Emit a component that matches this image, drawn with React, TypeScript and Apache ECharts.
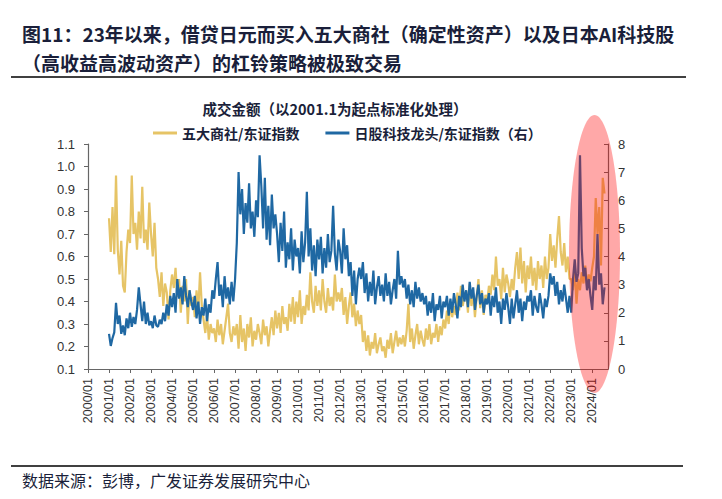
import React, { useEffect, useRef } from "react";
import * as echarts from "echarts";

// Month labels: 2000/01 .. 2024/10
const yearList = [2000, 2001, 2002, 2003, 2004, 2005, 2006, 2007, 2008, 2009, 2010, 2011, 2012, 2013, 2014, 2015, 2016, 2017, 2018, 2019, 2020, 2021, 2022, 2023, 2024];
const monthList = ["01", "02", "03", "04", "05", "06", "07", "08", "09", "10", "11", "12"];
const lastLabel = "2024/10";
const categories: string[] = [];
for (const y of yearList) {
  for (const m of monthList) {
    const lab = `${y}/${m}`;
    if (categories.length && categories[categories.length - 1] === lastLabel) break;
    categories.push(lab);
  }
}

// 五大商社/东证指数 (left axis), monthly from 2001/01
const tradingHouseRatio = [
  0.77, 0.62, 0.82, 0.61, 0.96, 0.63, 0.52, 0.67, 0.47, 0.44, 0.62, 0.72, // 2001
  0.66, 0.96, 0.70, 0.75, 0.63, 0.80, 0.68, 0.91, 0.66, 0.72, 0.63, 0.84, // 2002
  0.70, 0.60, 0.75, 0.55, 0.50, 0.42, 0.53, 0.38, 0.48, 0.44, 0.32, 0.45, // 2003
  0.52, 0.46, 0.55, 0.42, 0.50, 0.35, 0.47, 0.40, 0.50, 0.30, 0.45, 0.38, // 2004
  0.42, 0.33, 0.45, 0.36, 0.53, 0.38, 0.32, 0.26, 0.34, 0.23, 0.30, 0.26, // 2005
  0.28, 0.22, 0.32, 0.25, 0.30, 0.21, 0.27, 0.33, 0.39, 0.26, 0.22, 0.29, // 2006
  0.25, 0.30, 0.19, 0.34, 0.22, 0.28, 0.18, 0.30, 0.24, 0.33, 0.20, 0.27, // 2007
  0.23, 0.30, 0.26, 0.21, 0.32, 0.25, 0.29, 0.20, 0.27, 0.33, 0.25, 0.36, // 2008
  0.28, 0.35, 0.26, 0.38, 0.30, 0.33, 0.27, 0.39, 0.31, 0.42, 0.30, 0.40, // 2009
  0.33, 0.45, 0.30, 0.38, 0.34, 0.43, 0.36, 0.53, 0.40, 0.35, 0.47, 0.38, // 2010
  0.45, 0.36, 0.50, 0.40, 0.35, 0.46, 0.38, 0.42, 0.36, 0.52, 0.40, 0.44, // 2011
  0.40, 0.46, 0.34, 0.42, 0.30, 0.38, 0.44, 0.33, 0.39, 0.29, 0.36, 0.30, // 2012
  0.34, 0.22, 0.27, 0.18, 0.25, 0.16, 0.22, 0.19, 0.26, 0.17, 0.21, 0.24, // 2013
  0.18, 0.20, 0.15, 0.23, 0.19, 0.26, 0.17, 0.22, 0.27, 0.20, 0.24, 0.21, // 2014
  0.25, 0.20, 0.27, 0.39, 0.22, 0.28, 0.19, 0.25, 0.30, 0.21, 0.27, 0.23, // 2015
  0.20, 0.28, 0.23, 0.30, 0.21, 0.26, 0.24, 0.30, 0.22, 0.29, 0.25, 0.32, // 2016
  0.28, 0.36, 0.30, 0.40, 0.33, 0.38, 0.34, 0.44, 0.36, 0.47, 0.38, 0.42, // 2017
  0.45, 0.35, 0.48, 0.38, 0.44, 0.33, 0.42, 0.50, 0.37, 0.45, 0.34, 0.43, // 2018
  0.40, 0.47, 0.43, 0.52, 0.45, 0.60, 0.47, 0.50, 0.41, 0.55, 0.44, 0.52, // 2019
  0.48, 0.42, 0.50, 0.45, 0.55, 0.62, 0.50, 0.64, 0.48, 0.58, 0.44, 0.56, // 2020
  0.50, 0.60, 0.47, 0.55, 0.45, 0.58, 0.50, 0.56, 0.46, 0.60, 0.50, 0.55, // 2021
  0.70, 0.58, 0.65, 0.55, 0.68, 0.78, 0.62, 0.56, 0.66, 0.53, 0.60, 0.50, // 2022
  0.50, 0.45, 0.55, 0.39, 0.50, 0.45, 0.53, 0.48, 0.56, 0.47, 0.52, 0.49, // 2023
  0.55, 0.60, 0.86, 0.70, 0.82, 0.56, 0.95, 0.88, // 2024
];

// 日股科技龙头/东证指数 (right axis), monthly from 2001/01
const techLeaderRatio = [
  1.25, 0.82, 1.10, 1.30, 2.35, 1.60, 1.90, 1.25, 1.55, 1.20, 1.80, 1.45, // 2001
  2.00, 1.50, 1.85, 1.60, 2.10, 2.90, 2.30, 1.70, 2.40, 1.60, 2.00, 1.55, // 2002
  1.70, 1.45, 1.90, 1.55, 1.50, 1.75, 1.60, 2.00, 1.70, 2.30, 1.90, 2.60, // 2003
  2.20, 2.70, 2.00, 3.20, 2.50, 2.90, 2.30, 3.30, 2.60, 2.20, 2.80, 2.40, // 2004
  2.10, 2.60, 1.80, 2.40, 1.60, 2.20, 1.90, 2.50, 1.70, 2.30, 2.00, 2.80, // 2005
  2.50, 3.20, 3.80, 2.60, 3.00, 2.20, 3.30, 2.50, 2.90, 2.30, 3.10, 2.40, // 2006
  3.20, 4.50, 7.00, 5.50, 6.40, 4.80, 5.90, 5.20, 6.60, 5.00, 5.60, 4.70, // 2007
  6.00, 5.40, 7.60, 6.50, 5.00, 6.80, 4.60, 5.80, 4.40, 6.20, 5.00, 5.50, // 2008
  4.80, 3.80, 5.20, 4.20, 5.60, 3.60, 4.50, 3.90, 5.00, 3.50, 4.60, 4.00, // 2009
  4.30, 3.40, 4.90, 3.80, 4.50, 6.30, 4.00, 5.00, 3.50, 4.40, 3.30, 4.60, // 2010
  3.90, 4.70, 3.40, 4.30, 3.60, 4.80, 3.80, 4.20, 5.80, 4.10, 3.50, 4.60, // 2011
  4.20, 3.40, 5.00, 3.90, 4.40, 3.30, 3.80, 2.60, 3.50, 2.30, 3.20, 3.60, // 2012
  3.20, 3.80, 2.70, 3.40, 2.40, 3.10, 2.60, 3.50, 2.30, 2.90, 3.30, 2.60, // 2013
  3.00, 2.40, 3.40, 2.60, 3.10, 2.30, 2.80, 3.20, 2.50, 4.20, 3.00, 3.30, // 2014
  2.90, 3.20, 2.50, 3.00, 2.30, 2.80, 2.20, 3.10, 2.50, 2.90, 2.40, 2.70, // 2015
  2.30, 2.60, 1.90, 2.40, 2.00, 2.70, 1.70, 2.30, 2.10, 2.60, 1.80, 2.40, // 2016
  2.20, 2.60, 1.90, 2.50, 2.00, 2.70, 2.30, 1.80, 2.60, 2.20, 3.00, 2.40, // 2017
  2.80, 2.20, 3.10, 2.50, 2.90, 2.10, 2.60, 3.00, 2.30, 2.70, 2.00, 2.50, // 2018
  2.30, 2.70, 1.90, 2.60, 2.20, 2.90, 2.00, 2.40, 1.60, 2.50, 2.10, 2.70, // 2019
  2.20, 1.60, 2.50, 1.80, 2.30, 2.80, 2.00, 2.50, 1.70, 2.40, 2.10, 2.60, // 2020
  2.40, 2.80, 1.90, 2.60, 2.20, 2.00, 2.70, 2.30, 1.80, 2.50, 2.20, 2.60, // 2021
  3.40, 3.00, 3.30, 2.60, 3.10, 2.30, 2.80, 2.40, 3.00, 2.50, 2.00, 2.60, // 2022
  2.00, 3.20, 3.90, 3.10, 3.40, 7.60, 4.30, 3.30, 3.60, 2.80, 3.20, 2.60, // 2023
  2.10, 3.30, 2.80, 4.80, 3.00, 3.40, 2.30, 2.90, // 2024
];

const leftTicks = { min: 0.1, max: 1.1, step: 0.1 };
const rightTicks = { min: 0, max: 8, step: 1 };

const seriesNames = ["五大商社/东证指数", "日股科技龙头/东证指数（右）"];
const padding2000: (number | null)[] = [null, null, null, null, null, null, null, null, null, null, null, null];

const TEXT = "#1a1f3a";
const CJK = "'Noto Sans CJK SC', 'Noto Sans', sans-serif";
const LATIN = "'Liberation Sans', Arial, sans-serif";

export default function App() {
  const ref = useRef<HTMLDivElement>(null);
  useEffect(() => {
    if (!ref.current) return;
    const chart = echarts.init(ref.current, undefined, { renderer: "svg" });
    const isJan = (_i: number, v: string) => v.endsWith("/01");
    chart.setOption({
      animation: false,
      backgroundColor: "#fff",
      grid: { left: 88, right: 114, top: 144, bottom: 130, containLabel: false },
      legend: {
        left: 148,
        top: 121,
        icon: "rect",
        itemWidth: 24,
        itemHeight: 3,
        itemGap: 26,
        textStyle: { fontFamily: CJK, fontSize: 14, fontWeight: "bold", color: TEXT, padding: [0, 0, 0, 0] },
        data: seriesNames,
      },
      xAxis: {
        type: "category",
        data: categories,
        boundaryGap: false,
        axisLine: { lineStyle: { color: "#666", width: 1.2 } },
        axisTick: { interval: isJan, length: 4, lineStyle: { color: "#666" } },
        axisLabel: {
          interval: isJan,
          rotate: 90,
          margin: 9,
          fontFamily: LATIN,
          fontSize: 12.5,
          color: "#333",
        },
        splitLine: { show: false },
      },
      yAxis: [
        {
          type: "value",
          min: leftTicks.min,
          max: leftTicks.max,
          interval: leftTicks.step,
          axisLine: { show: true, lineStyle: { color: "#666", width: 1.2 } },
          axisTick: { show: true, length: 4, lineStyle: { color: "#666" } },
          axisLabel: {
            margin: 13,
            fontFamily: LATIN,
            fontSize: 13,
            color: "#333",
            formatter: (v: number) => v.toFixed(1),
          },
          splitLine: { show: false },
        },
        {
          type: "value",
          min: rightTicks.min,
          max: rightTicks.max,
          interval: rightTicks.step,
          position: "right",
          axisLine: { show: true, lineStyle: { color: "#666", width: 1.2 } },
          axisTick: { show: true, inside: true, length: 4, lineStyle: { color: "#666" } },
          axisLabel: { margin: 10, fontFamily: LATIN, fontSize: 13, color: "#333" },
          splitLine: { show: false },
        },
      ],
      series: [
        {
          name: seriesNames[0],
          type: "line",
          yAxisIndex: 0,
          data: [...padding2000, ...tradingHouseRatio],
          symbol: "none",
          lineStyle: { color: "#E6C466", width: 2.2 },
          itemStyle: { color: "#E6C466" },
        },
        {
          name: seriesNames[1],
          type: "line",
          yAxisIndex: 1,
          data: [...padding2000, ...techLeaderRatio],
          symbol: "none",
          lineStyle: { color: "#1F68A3", width: 2.2 },
          itemStyle: { color: "#1F68A3" },
        },
      ],
      graphic: [
        {
          type: "text",
          x: 22,
          y: 33,
          style: {
            text: "图11：23年以来，借贷日元而买入五大商社（确定性资产）以及日本AI科技股",
            font: `bold 19px ${CJK}`,
            fill: TEXT,
            textVerticalAlign: "middle",
          },
        },
        {
          type: "text",
          x: 22,
          y: 62,
          style: {
            text: "（高收益高波动资产）的杠铃策略被极致交易",
            font: `bold 19px ${CJK}`,
            fill: TEXT,
            textVerticalAlign: "middle",
          },
        },
        { type: "line", shape: { x1: 11, y1: 77, x2: 686, y2: 77 }, style: { stroke: "#000", lineWidth: 1.5 } },
        {
          type: "text",
          x: 335,
          y: 108,
          style: {
            text: "成交金额（以2001.1为起点标准化处理）",
            font: `bold 14.5px ${CJK}`,
            fill: TEXT,
            textAlign: "center",
            textVerticalAlign: "middle",
          },
        },
        { type: "line", shape: { x1: 11, y1: 466, x2: 683, y2: 466 }, style: { stroke: "#000", lineWidth: 1.5 } },
        {
          type: "text",
          x: 22,
          y: 480,
          style: {
            text: "数据来源：彭博，广发证券发展研究中心",
            font: `16px ${CJK}`,
            fill: TEXT,
            textVerticalAlign: "middle",
          },
        },
        {
          type: "ellipse",
          z: 100,
          shape: { cx: 594.5, cy: 254, rx: 25.5, ry: 139 },
          style: { fill: "rgba(255,0,0,0.34)" },
        },
      ],
    });
    return () => chart.dispose();
  }, []);
  return <div ref={ref} style={{ position: "fixed", left: 0, top: 0, width: 722, height: 499 }} />;
}
